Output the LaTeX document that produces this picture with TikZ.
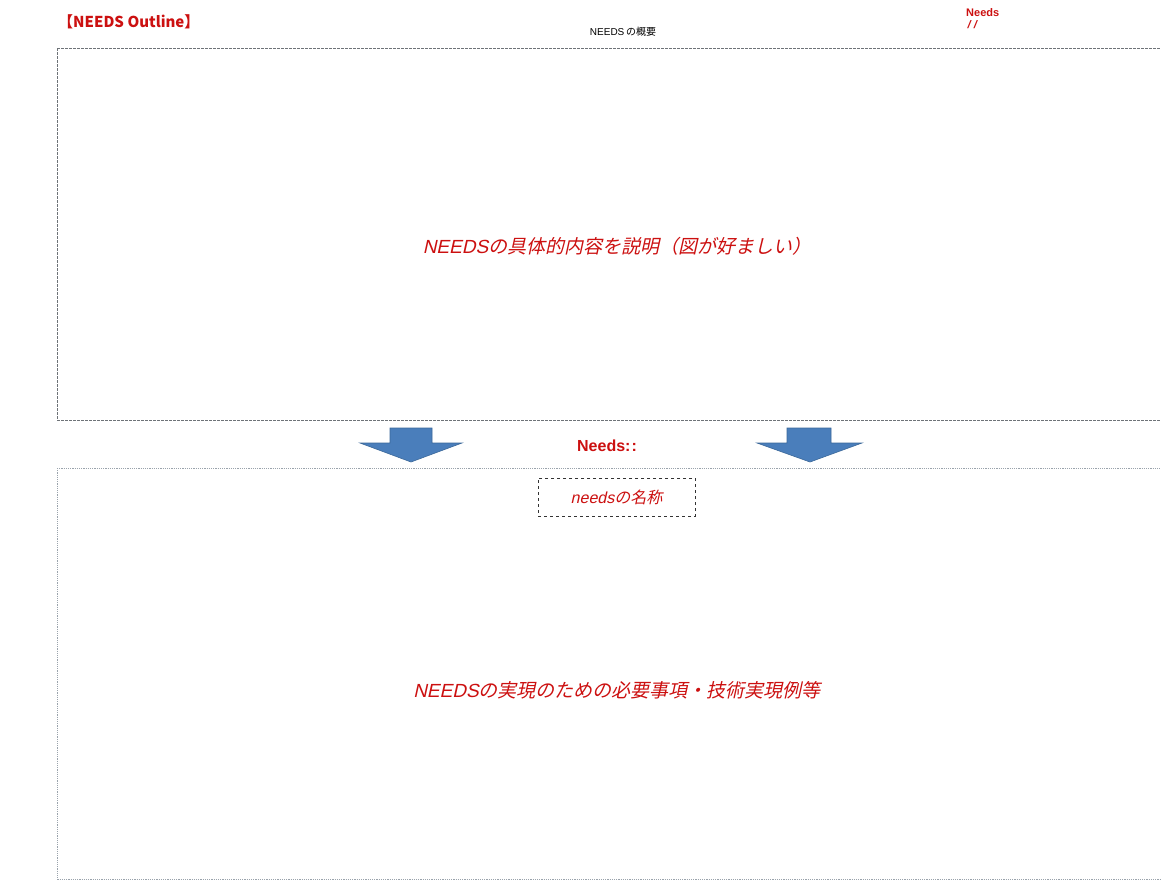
\documentclass[tikz,border=0pt]{standalone}
\usepackage{fontspec}
\newfontfamily\jp{Noto Sans CJK JP}
\newfontfamily\jpit[FakeSlant=0.22]{Noto Sans CJK JP}
\newfontfamily\lat{Liberation Sans}
\newfontfamily\latit[FakeSlant=0.22]{Liberation Sans}
\definecolor{needred}{HTML}{CC1010}
\definecolor{arrowblue}{HTML}{4A7EBB}
\definecolor{arrowedge}{HTML}{3B6899}
\definecolor{frameA}{HTML}{6E7378}
\definecolor{frameB}{HTML}{9AA3AC}
\tikzset{
  topframe/.style={draw=frameA, line width=0.8pt, dash pattern=on 2.5pt off 1.5pt},
  lowframe/.style={draw=frameB, line width=0.8pt, dash pattern=on 1.2pt off 1pt},
  downarrow/.style={fill=arrowblue, draw=arrowedge, line width=0.6pt},
  label/.style={inner sep=0pt, anchor=center},
  bigtext/.style={label, text=needred, font=\fontsize{19}{22}\selectfont},
}
\begin{document}
\begin{tikzpicture}[x=1pt, y=-1pt]
\useasboundingbox (0,0) rectangle (1161,894);
\clip (0,0) rectangle (1161,894);
\fill[white] (0,0) rectangle (1161,894);

% header texts
\node[label, anchor=west, text=needred, font=\jp\bfseries\fontsize{15}{17}\selectfont] (title) at (58,22) {【NEEDS Outline】};
\node[label, font=\lat\fontsize{10}{12}\selectfont] (subtitle) at (623,32) {NEEDS\,{\jp の概要}};
\node[label, anchor=west, text=needred, font=\lat\bfseries\fontsize{11}{12}\selectfont] (needsdate) at (966,13) {Needs};
\node[label, anchor=west, text=needred, font=\latit\bfseries\fontsize{11}{12}\selectfont] (slashes) at (967,25) {/ /};

% upper frame: outline of the needs
\path[topframe] (57,48) -- (1170,48) (57,48) -- (57,420) -- (1170,420);
\node[bigtext] (outline) at (617,246) {\latit NEEDS\jpit の具体的内容を説明（図が好ましい）};

% arrows between the two frames
\draw[downarrow] (390,428) -- (432,428) -- (432,443) -- (462,443) -- (411,462) -- (360,443) -- (390,443) -- cycle;
\draw[downarrow] (787,428) -- (831,428) -- (831,443) -- (862,443) -- (810,462) -- (757,443) -- (787,443) -- cycle;
\node[label, text=needred, font=\lat\bfseries\fontsize{16}{18}\selectfont] (needslabel) at (607,446) {Needs:\kern1pt:};

% lower frame: requirements and examples
\path[lowframe] (57,468) -- (1170,468) (57,468) -- (57,879) -- (1170,879);
\node[draw=black!80, dashed, line width=0.6pt, minimum width=157pt, minimum height=38pt, inner sep=0pt,
      text=needred, font=\fontsize{16}{18}\selectfont] (needname) at (616.5,497) {\latit needs\jpit の名称};
\node[bigtext] (realize) at (617,690) {\latit NEEDS\jpit の実現のための必要事項・技術実現例等};
\end{tikzpicture}
\end{document}
